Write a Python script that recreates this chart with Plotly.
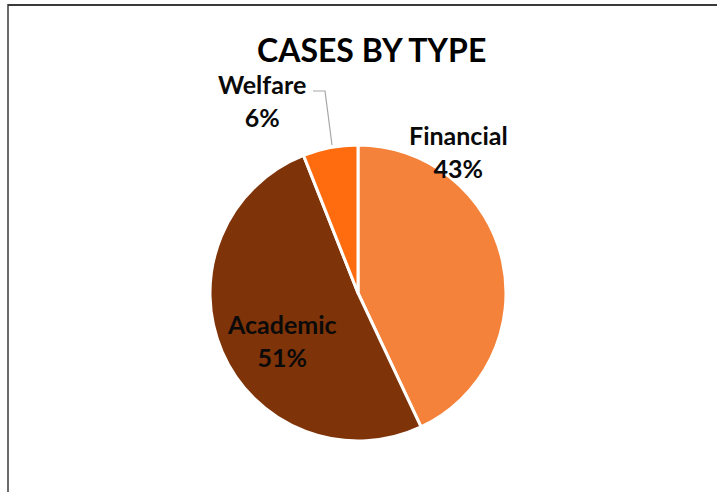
import plotly.graph_objects as go

categories = ["Financial", "Academic", "Welfare"]
values = [43, 51, 6]
colors = ["#F5823A", "#7F3308", "#FF6C10"]
title_text = "CASES BY TYPE"

W, H = 717, 492
total = sum(values)
pcts = [f"{round(v * 100 / total)}%" for v in values]

def px(x):
    return x / W

def py(y):
    return 1 - y / H

fig = go.Figure(go.Pie(
    labels=categories,
    values=values,
    marker=dict(colors=colors, line=dict(color="white", width=3)),
    sort=False,
    direction="clockwise",
    rotation=0,
    textinfo="none",
    hoverinfo="label+percent",
    domain=dict(x=[px(210), px(506)], y=[py(441), py(145)]),
    showlegend=False,
))

label_pos = {"Financial": (458, 151), "Academic": (282, 340), "Welfare": (262, 100)}
font = dict(family="Lato, Calibri, sans-serif", size=25, color="#0a0a0a")
annotations = []
for cat, pct in zip(categories, pcts):
    x, y = label_pos[cat]
    annotations.append(dict(
        x=px(x), y=py(y), xref="paper", yref="paper",
        text=f"<b>{cat}</b><br><b>{pct}</b>", showarrow=False,
        font=font, align="center", xanchor="center", yanchor="middle",
    ))
annotations.append(dict(
    x=px(371), y=py(50), xref="paper", yref="paper",
    text=f"<b>{title_text}</b>", showarrow=False,
    font=dict(family="Lato, Calibri, sans-serif", size=32, color="#000000"),
    xanchor="center", yanchor="middle",
))

shapes = [
    dict(type="line", xref="paper", yref="paper", layer="above",
         x0=px(8), x1=1.0, y0=py(5), y1=py(5),
         line=dict(color="#3a3a3a", width=2)),
    dict(type="line", xref="paper", yref="paper", layer="above",
         x0=px(8), x1=px(8), y0=0, y1=py(4),
         line=dict(color="#3a3a3a", width=1.5)),
    dict(type="path", xref="paper", yref="paper",
         path=f"M {px(313)} {py(91)} L {px(325)} {py(91)} L {px(332)} {py(145)}",
         line=dict(color="#A6A6A6", width=1.2)),
]

fig.update_layout(
    width=W, height=H,
    margin=dict(l=0, r=0, t=0, b=0),
    paper_bgcolor="white",
    plot_bgcolor="white",
    annotations=annotations,
    shapes=shapes,
)

fig.write_html("out.html", config={"displayModeBar": False},
               post_script="document.body.style.margin='0';")
